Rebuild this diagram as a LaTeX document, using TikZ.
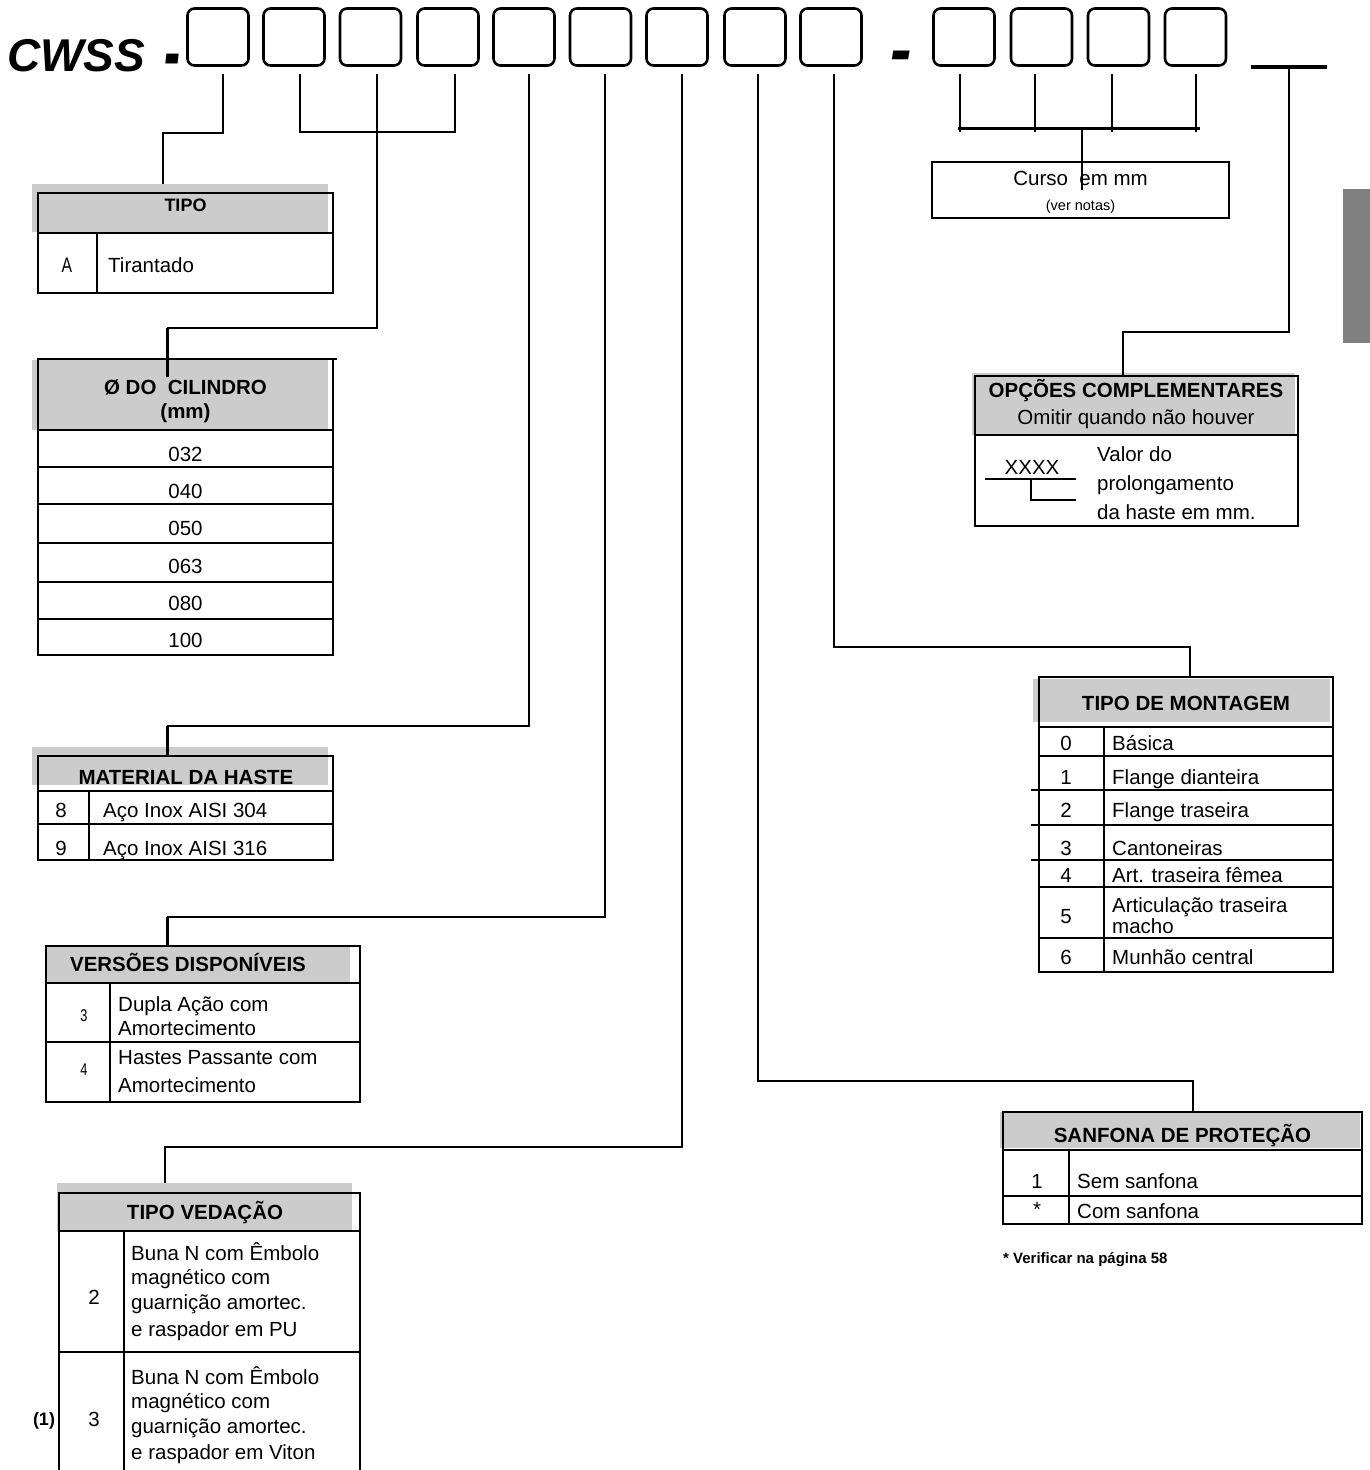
\documentclass[tikz,border=0pt]{standalone}
\usepackage{fontspec}
\setmainfont{Liberation Sans}
\definecolor{hdrgray}{RGB}{204,204,204}
\definecolor{barc}{RGB}{128,128,128}
\begin{document}
\begin{tikzpicture}[x=1pt,y=-1pt,
  conn/.style={line width=2pt},
  rl/.style={line width=2.8pt},
  frame/.style={draw, line width=2.8pt, inner sep=0pt, outer sep=0pt, anchor=north west},
  tbox/.style={draw, line width=2.6pt, rounded corners=7pt, minimum width=61pt, minimum height=57pt, inner sep=0pt},
  tx/.style={inner sep=0pt, anchor=base, font=\fontsize{20.5}{24}\selectfont},
  tl/.style={tx, anchor=base west},
  hd/.style={inner sep=0pt, anchor=base, font=\fontsize{20.5}{24}\selectfont\bfseries},
  big/.style={inner sep=0pt, anchor=base west, font=\fontsize{46}{46}\selectfont\bfseries\itshape},
  nar/.style={inner sep=0pt, anchor=base, font=\fontsize{21}{24}\selectfont}
]
\useasboundingbox (0,0) rectangle (1370,1470);

% ---------- title row ----------
\node[big] (cwss) at (7,71) {CWSS};
\node[big] (dash1) at (164,80) {\scalebox{1.05}[1.8]{-}};
\node[big] (dash2) at (890,74) {\scalebox{1.4}[1.6]{-}};
\foreach \n/\x in {1/218,2/294,3/370.5,4/448,5/524,6/600.5,7/677,8/755,9/831,10/964,11/1041.5,12/1118.5,13/1195.5}
  \node[tbox] (c\n) at (\x,37) {};
\foreach \n/\x in {1/223,2/300,3/377,4/455,5/529,6/605,7/682,8/758,9/834,10/960,11/1035,12/1112,13/1196}
  \coordinate (d\n) at (\x,74);
\coordinate (u) at (1289,67);
\draw[line width=3.5pt] (1251,67) -- (1327,67);

% right gray bar
\fill[barc] (1343,189) rectangle (1370,343);

% ---------- gray header shades ----------
\fill[hdrgray] (32,184) rectangle (328,232);
\fill[hdrgray] (32,360) rectangle (328,430);
\fill[hdrgray] (32,747) rectangle (328,785);
\fill[hdrgray] (46,946) rectangle (350,983);
\fill[hdrgray] (57,1183) rectangle (352,1231);
\fill[hdrgray] (972,373) rectangle (1295,435);
\fill[hdrgray] (1033,679) rectangle (1330,722);
\fill[hdrgray] (1000,1112) rectangle (1360,1148);

% ---------- frames ----------
\node[frame, minimum width=295pt, minimum height=100pt] (tipo) at (38,193) {};
\node[frame, minimum width=295pt, minimum height=296pt] (cil) at (38,359) {};
\node[frame, minimum width=295pt, minimum height=104pt] (mat) at (38,756) {};
\node[frame, minimum width=314pt, minimum height=156pt] (ver) at (46,946) {};
\node[inner sep=0pt, outer sep=0pt, anchor=north west, minimum width=301pt, minimum height=277pt] (ved) at (59,1193) {};
\node[frame, minimum width=323pt, minimum height=150pt] (opc) at (975,376) {};
\node[frame, minimum width=294pt, minimum height=295pt] (mon) at (1039,677) {};
\node[frame, minimum width=359pt, minimum height=112pt] (san) at (1003,1112) {};
\node[frame, minimum width=297pt, minimum height=56pt] (curso) at (932,162) {};

% ---------- connectors ----------
\coordinate (k1) at (163,133);
\draw[conn] (d1) |- (k1) -- ++(0,51);
\draw[conn] (d2) -- ++(0,58) -| (d4);
\coordinate (k3) at (167,328);
\draw[conn] (d3) |- (k3);
\draw[line width=3pt] (k3) -- ++(0,49);
\coordinate (k5) at (167,726);
\draw[conn] (d5) |- (k5);
\draw[line width=3pt] (k5) -- (k5 |- mat.north);
\coordinate (k6) at (167,917);
\draw[conn] (d6) |- (k6);
\draw[line width=3pt] (k6) -- (k6 |- ver.north);
\coordinate (k7) at (165,1147);
\draw[conn] (d7) |- (k7) -- ++(0,36);
\coordinate (k8) at (1193,1081);
\draw[conn] (d8) |- (k8) -- (k8 |- san.north);
\coordinate (k9) at (1190,647);
\draw[conn] (d9) |- (k9) -- (k9 |- mon.north);
\foreach \n in {10,11,12,13} \draw[conn] (d\n) -- ++(0,58);
\draw[line width=3pt] (958,128) -- (1200,128);
\coordinate (kc) at (1082,128);
\draw[line width=2.6pt] (kc) -- ++(0,62);
\coordinate (k14) at (1123,332);
\draw[conn] (u) |- (k14) -- (k14 |- opc.north);

% ---------- table inner lines ----------
% TIPO
\draw[rl] (38,233) -- (333,233);
\draw[rl] (97,233) -- (97,293);
% cylinder
\draw[rl] (38,359) -- (337,359);
\foreach \y in {430,467,504,543,582,619} \draw[rl] (38,\y) -- (333,\y);
% material
\draw[rl] (38,791) -- (333,791);
\draw[rl] (38,824) -- (333,824);
\draw[rl] (89,791) -- (89,860);
% versions
\draw[rl] (46,983) -- (360,983);
\draw[rl] (46,1042) -- (360,1042);
\draw[rl] (110,983) -- (110,1102);
% vedacao
\draw[rl] (ved.south west) -- (ved.north west) -- (ved.north east) -- (ved.south east);
\draw[rl] (59,1231) -- (360,1231);
\draw[rl] (59,1352) -- (360,1352);
\draw[rl] (124,1231) -- (124,1470);
% opcoes
\draw[rl] (975,435) -- (1298,435);
\draw[line width=2.4pt] (985,479) -- (1076,479);
\draw[line width=2.4pt] (1031,479) -- (1031,500) -- (1076,500);
% montagem
\draw[rl] (1039,727) -- (1333,727);
\foreach \y in {756,790,825,860,887,938} \draw[rl] (1039,\y) -- (1333,\y);
\draw[rl] (1104,727) -- (1104,972);
\foreach \y in {790,825,860} \draw[line width=2pt] (1031,\y) -- (1039,\y);
% sanfona
\draw[rl] (1003,1150) -- (1362,1150);
\draw[rl] (1003,1196) -- (1362,1196);
\draw[rl] (1069,1150) -- (1069,1224);

% ---------- texts ----------
% TIPO
\node[hd, font=\fontsize{18}{20}\selectfont\bfseries] (h1) at (185.5,211.5) {TIPO};
\node[nar] (a1) at (67,272) {\scalebox{0.75}[1]{A}};
\node[tl] (a2) at (108,272) {Tirantado};
% cylinder
\node[hd] (h2) at (185.5,394) {Ø DO\ \ CILINDRO};
\node[hd] (h2b) at (185.5,418) {(mm)};
\node[tx] (v1) at (185.5,461) {032};
\node[tx] (v2) at (185.5,498) {040};
\node[tx] (v3) at (185.5,535) {050};
\node[tx] (v4) at (185.5,573) {063};
\node[tx] (v5) at (185.5,610) {080};
\node[tx] (v6) at (185.5,647) {100};
% material
\node[hd] (h3) at (186,784) {MATERIAL DA HASTE};
\node[tx] (m1) at (61,817) {8};
\node[tl] (m1t) at (103,817) {Aço Inox AISI 304};
\node[tx] (m2) at (61,855) {9};
\node[tl] (m2t) at (103,855) {Aço Inox AISI 316};
% versions
\node[hd] (h4) at (188,971) {VERSÕES DISPONÍVEIS};
\node[nar, font=\fontsize{17}{18}\selectfont] (r1) at (84,1021) {\scalebox{0.75}[1]{3}};
\node[tl] (r1a) at (118,1011) {Dupla Ação com};
\node[tl] (r1b) at (118,1035) {Amortecimento};
\node[nar, font=\fontsize{17}{18}\selectfont] (r2) at (84,1075) {\scalebox{0.75}[1]{4}};
\node[tl] (r2a) at (118,1064) {Hastes Passante com};
\node[tl] (r2b) at (118,1092) {Amortecimento};
% vedacao
\node[hd] (h5) at (205,1219) {TIPO VEDAÇÃO};
\node[tx] (s1) at (94,1304) {2};
\node[tl] (s1a) at (131,1260) {Buna N com Êmbolo};
\node[tl] (s1b) at (131,1284) {magnético com};
\node[tl] (s1c) at (131,1309) {guarnição amortec.};
\node[tl] (s1d) at (131,1336) {e raspador em PU};
\node[tx] (s2) at (94,1426) {3};
\node[tl] (s2a) at (131,1384) {Buna N com Êmbolo};
\node[tl] (s2b) at (131,1408) {magnético com};
\node[tl] (s2c) at (131,1433) {guarnição amortec.};
\node[tl] (s2d) at (131,1459) {e raspador em Viton};
\node[hd, font=\fontsize{18}{20}\selectfont\bfseries] (n1) at (44,1425) {(1)};
% curso
\node[tx] (cu1) at (1080.5,185) {Curso\ \ em mm};
\node[tx, font=\fontsize{14.5}{16}\selectfont] (cu2) at (1080.5,210) {(ver notas)};
% opcoes
\node[hd] (h6) at (1136,397) {OPÇÕES COMPLEMENTARES};
\node[tx] (o0) at (1136,424) {Omitir quando não houver};
\node[tx] (ox) at (1032,474) {XXXX};
\node[tl] (o1) at (1097,461) {Valor do};
\node[tl] (o2) at (1097,490) {prolongamento};
\node[tl] (o3) at (1097,519) {da haste em mm.};
% montagem
\node[hd] (h7) at (1186,710) {TIPO DE MONTAGEM};
\node[tx] (g0) at (1066,750) {0};
\node[tl] (g0t) at (1112,750) {Básica};
\node[tx] (g1) at (1066,784) {1};
\node[tl] (g1t) at (1112,784) {Flange dianteira};
\node[tx] (g2) at (1066,817) {2};
\node[tl] (g2t) at (1112,817) {Flange traseira};
\node[tx] (g3) at (1066,855) {3};
\node[tl] (g3t) at (1112,855) {Cantoneiras};
\node[tx] (g4) at (1066,882) {4};
\node[tl] (g4t) at (1112,882) {Art. traseira fêmea};
\node[tx] (g5) at (1066,923) {5};
\node[tl] (g5a) at (1112,912) {Articulação traseira};
\node[tl] (g5b) at (1112,933) {macho};
\node[tx] (g6) at (1066,964) {6};
\node[tl] (g6t) at (1112,964) {Munhão central};
% sanfona
\node[hd] (h8) at (1182.5,1142) {SANFONA DE PROTEÇÃO};
\node[tx] (f1) at (1037,1188) {1};
\node[tl] (f1t) at (1077,1188) {Sem sanfona};
\node[tx] (f2) at (1037,1216) {*};
\node[tl] (f2t) at (1077,1218) {Com sanfona};
\node[inner sep=0pt, anchor=base west, font=\fontsize{15}{17}\selectfont\bfseries] (fn) at (1003,1263) {* Verificar na página 58};
\end{tikzpicture}
\end{document}
